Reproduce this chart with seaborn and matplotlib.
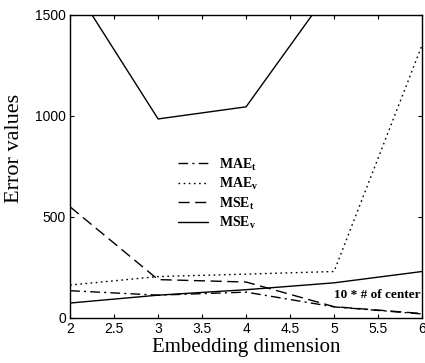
import matplotlib
matplotlib.use("Agg")
import matplotlib.pyplot as plt
import seaborn as sns
import pandas as pd

dims = [2, 3, 4, 5, 6]
mae_t = [135, 113, 128, 55, 20]
mae_v = [163, 205, 217, 230, 1350]
mse_t = [550, 190, 178, 56, 22]
mse_v = [1670, 985, 1045, 1650, 2200]
centers = [74, 113, 140, 174, 230]
xticks = [2, 2.5, 3, 3.5, 4, 4.5, 5, 5.5, 6]
yticks = [0, 500, 1000, 1500]

sns.set_style("ticks")
plt.rcParams["font.family"] = ["Liberation Serif", "DejaVu Serif"]
plt.rcParams["mathtext.fontset"] = "custom"
plt.rcParams["mathtext.rm"] = "Liberation Serif:bold"
plt.rcParams["text.color"] = "black"
plt.rcParams["axes.labelcolor"] = "black"
plt.rcParams["xtick.color"] = "black"
plt.rcParams["ytick.color"] = "black"

fig = plt.figure(figsize=(4.25, 3.63), dpi=100)
ax = fig.add_axes([0.165, 0.124, 0.828, 0.835])

series = [
    ("MAE$_\\mathrm{t}$", mae_t, (0, (7, 3, 1.5, 3))),
    ("MAE$_\\mathrm{v}$", mae_v, (0, (1.2, 2.5))),
    ("MSE$_\\mathrm{t}$", mse_t, (0, (8, 4))),
    ("MSE$_\\mathrm{v}$", mse_v, "-"),
]
for name, vals, ls in series:
    df = pd.DataFrame({"x": dims, "y": vals})
    sns.lineplot(data=df, x="x", y="y", ax=ax, color="black", lw=1.0,
                 linestyle=ls, label=name)
df = pd.DataFrame({"x": dims, "y": centers})
sns.lineplot(data=df, x="x", y="y", ax=ax, color="black", lw=1.0,
             linestyle="-", legend=False)

ax.set_xlim(2, 6)
ax.set_ylim(0, 1500)
ax.set_xticks(xticks)
ax.set_xticklabels([f"{t:g}" for t in xticks], family="Liberation Sans", fontsize=10)
ax.set_yticks(yticks)
ax.set_yticklabels([str(t) for t in yticks], family="Liberation Sans", fontsize=10)
ax.tick_params(direction="in", length=3, top=True, right=True, pad=3)
for s in ax.spines.values():
    s.set_linewidth(1.0)
    s.set_color("black")
ax.set_xlabel("Embedding dimension", fontsize=15, labelpad=1)
ax.set_ylabel("Error values", fontsize=16)
ax.yaxis.set_label_coords(-0.13, 0.56)

leg = ax.legend(loc="upper left", bbox_to_anchor=(0.27, 0.575), frameon=False,
                handlelength=2.2, handletextpad=0.8, labelspacing=0.22,
                prop={"family": "Liberation Serif", "weight": "bold", "size": 10})

ax.text(5.98, 115, "10 * # of center", ha="right", va="center", fontsize=9.5,
        fontweight="bold", family="Liberation Serif")

fig.savefig("out.png", dpi=100)
